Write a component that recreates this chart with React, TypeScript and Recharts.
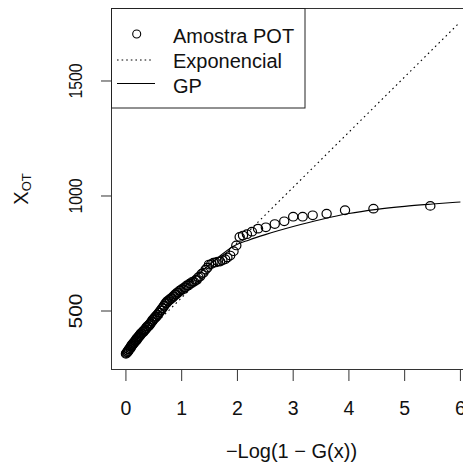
import React from 'react';
import { ComposedChart, Scatter, Line, XAxis, YAxis } from 'recharts';

// POT sample (x = -log(1 - G(x)), y = X_OT)
const sampleX = [
  0.00, 0.01, 0.02, 0.03, 0.04, 0.04, 0.05, 0.06, 0.07, 0.08,
  0.09, 0.09, 0.10, 0.11, 0.12, 0.13, 0.14, 0.15, 0.16, 0.17,
  0.18, 0.19, 0.19, 0.20, 0.21, 0.22, 0.23, 0.24, 0.25, 0.26,
  0.27, 0.28, 0.30, 0.31, 0.32, 0.33, 0.34, 0.35, 0.36, 0.37,
  0.38, 0.40, 0.41, 0.42, 0.43, 0.44, 0.46, 0.47, 0.48, 0.49,
  0.51, 0.52, 0.53, 0.55, 0.56, 0.57, 0.59, 0.60, 0.62, 0.63,
  0.65, 0.66, 0.68, 0.69, 0.71, 0.73, 0.74, 0.76, 0.78, 0.79,
  0.81, 0.83, 0.85, 0.86, 0.88, 0.90, 0.92, 0.94, 0.96, 0.98,
  1.00, 1.03, 1.05, 1.07, 1.09, 1.12, 1.14, 1.17, 1.19, 1.22,
  1.25, 1.27, 1.30, 1.33, 1.36, 1.39, 1.43, 1.46, 1.49, 1.53,
  1.57, 1.61, 1.65, 1.69, 1.73, 1.78, 1.82, 1.87, 1.93, 1.98,
  2.04, 2.10, 2.17, 2.26, 2.37, 2.51, 2.67, 2.84, 3.00, 3.17,
  3.35, 3.60, 3.93, 4.44, 5.46,
];
const sampleY = [
  314, 317, 321, 322, 327, 326, 333, 332, 339, 338,
  345, 344, 351, 350, 357, 356, 363, 362, 369, 368,
  374, 373, 379, 378, 385, 384, 390, 389, 397, 396,
  403, 402, 410, 408, 415, 414, 420, 419, 426, 426,
  433, 432, 439, 438, 445, 445, 454, 454, 462, 461,
  470, 469, 476, 476, 484, 484, 493, 493, 502, 503,
  512, 513, 522, 524, 534, 535, 543, 543, 550, 549,
  556, 556, 564, 564, 572, 572, 580, 580, 588, 588,
  595, 595, 603, 603, 611, 611, 619, 619, 627, 627,
  635, 635, 647, 650, 662, 666, 680, 688, 702, 704,
  710, 711, 715, 715, 721, 725, 733, 741, 760, 785,
  822, 828, 834, 845, 858, 864, 878, 890, 910, 910,
  916, 923, 938, 945, 957,
];

// Exponencial (dotted straight line)
const expX = [0, 5.96];
const expY = [318, 1748];

// GP fitted curve
const gpX = [0, 0.5, 1, 1.5, 1.97, 2.2, 2.5, 3, 3.5, 4, 4.5, 5, 5.5, 6];
const gpY = [316, 466, 593, 702, 787, 808, 832, 867, 898, 924, 942, 955, 965, 974];

const xTicks = [0, 1, 2, 3, 4, 5, 6];
const yTicks = [500, 1000, 1500];

const FONT = '"Liberation Sans", Arial, sans-serif';
const INK = '#111';

const sample = sampleX.map((x, i) => ({ x, y: sampleY[i] }));
const expData = expX.map((x, i) => ({ x, y: expY[i] }));
const gpData = gpX.map((x, i) => ({ x, y: gpY[i] }));

const XTick = (props: any) => {
  const { x, y, payload } = props;
  return (
    <text x={x} y={y + 34} textAnchor="middle" fontSize={19.5} fontFamily={FONT} fill={INK}>
      {payload.value}
    </text>
  );
};

const YTick = (props: any) => {
  const { x, y, payload } = props;
  const bx = x - 19;
  return (
    <text
      x={bx}
      y={y}
      transform={`rotate(-90 ${bx} ${y})`}
      textAnchor="middle"
      fontSize={19}
      fontFamily={FONT}
      fill={INK}
      textLength={35}
      lengthAdjust="spacingAndGlyphs"
    >
      {payload.value}
    </text>
  );
};

const OpenCircle = (props: any) => {
  const { cx, cy } = props;
  if (cx == null || cy == null) return null;
  return <ellipse cx={cx} cy={cy} rx={4.6} ry={4.3} fill="none" stroke="#000" strokeWidth={1.2} />;
};

export default function App() {
  return (
    <div
      style={{
        position: 'absolute',
        left: 0,
        top: 0,
        width: 463,
        height: 466,
        overflow: 'hidden',
        background: '#fff',
      }}
    >
      <ComposedChart width={480} height={466} margin={{ top: 9, right: 9, bottom: 0, left: 0 }}>
        <XAxis
          type="number"
          dataKey="x"
          domain={[-0.25, 6.19]}
          ticks={xTicks}
          interval={0}
          allowDataOverflow
          height={96}
          axisLine={false}
          tickSize={11}
          tickMargin={0}
          stroke="#333"
          tick={<XTick />}
        />
        <YAxis
          type="number"
          dataKey="y"
          domain={[243.5, 1813]}
          ticks={yTicks}
          interval={0}
          allowDataOverflow
          width={112}
          axisLine={false}
          tickSize={11}
          tickMargin={0}
          stroke="#333"
          tick={<YTick />}
        />
        <Line
          data={gpData}
          dataKey="y"
          type="monotone"
          stroke="#000"
          strokeWidth={1.1}
          dot={false}
          activeDot={false}
          isAnimationActive={false}
        />
        <Line
          data={expData}
          dataKey="y"
          type="linear"
          stroke="#000"
          strokeWidth={1.1}
          strokeDasharray="1.6 3.4"
          dot={false}
          activeDot={false}
          isAnimationActive={false}
        />
        <Scatter data={sample} dataKey="y" shape={<OpenCircle />} isAnimationActive={false} />
      </ComposedChart>

      <svg
        width={463}
        height={466}
        style={{ position: 'absolute', left: 0, top: 0, pointerEvents: 'none' }}
        fontFamily={FONT}
      >
        {/* plot box (right side runs off the image) */}
        <rect x={111.5} y={8.5} width={359} height={361} fill="none" stroke="#333" strokeWidth={1} />

        {/* legend */}
        <rect x={111.5} y={8.5} width={193.5} height={99.5} fill="none" stroke="#222" strokeWidth={1} />
        <circle cx={136.7} cy={34} r={4} fill="none" stroke="#000" strokeWidth={1.1} />
        <line x1={117} y1={60} x2={152} y2={60} stroke="#000" strokeWidth={1.1} strokeDasharray="1.6 3" />
        <line x1={117} y1={83.5} x2={155} y2={83.5} stroke="#000" strokeWidth={1.1} />
        <text x={173} y={43} fontSize={20} fill={INK}>Amostra POT</text>
        <text x={173} y={68} fontSize={20} fill={INK}>Exponencial</text>
        <text x={173} y={93} fontSize={20} fill={INK}>GP</text>

        {/* axis titles */}
        <text x={291.5} y={458} textAnchor="middle" fontSize={20} fill={INK}>
          −Log(1 − G(x))
        </text>
        <text x={28} y={189} transform="rotate(-90 28 189)" textAnchor="middle" fontSize={20} fill={INK}>
          X<tspan fontSize={13} dy={3}>OT</tspan>
        </text>
      </svg>
    </div>
  );
}
